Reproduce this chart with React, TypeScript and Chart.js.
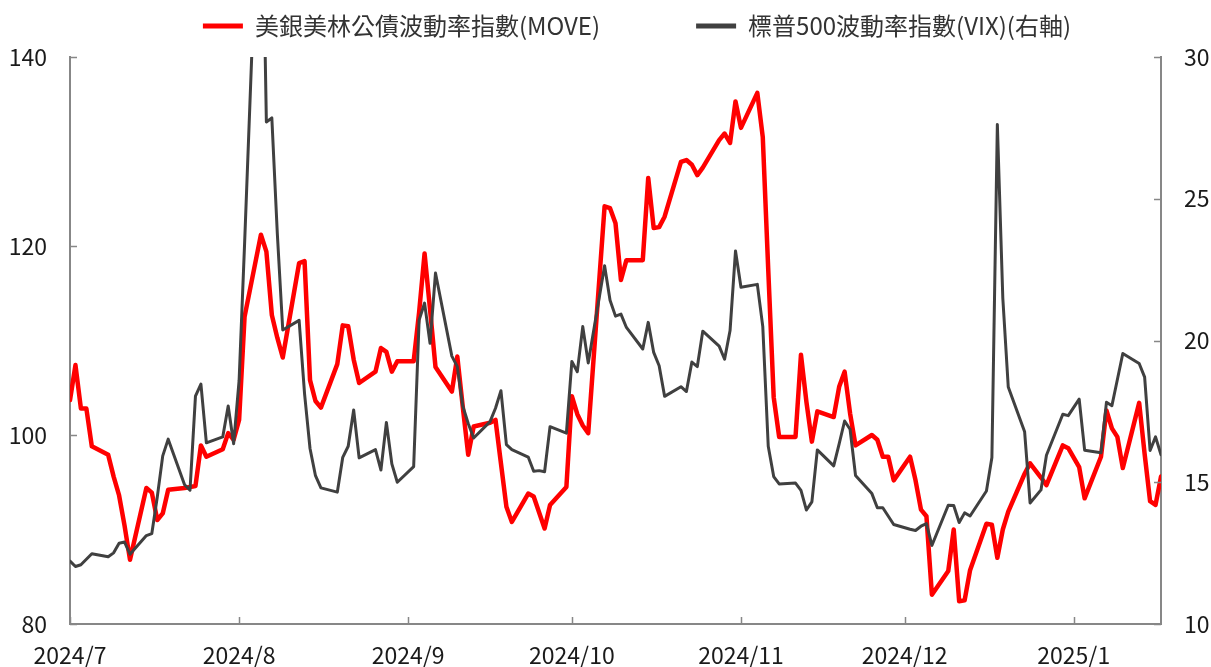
import React, { useEffect, useRef } from 'react';
import { Chart, registerables } from 'chart.js';

Chart.register(...registerables);

// ---------- data ----------
const seriesNames = ['美銀美林公債波動率指數(MOVE)', '標普500波動率指數(VIX)(右軸)'];

const moveDates = [
  '2024-07-01','2024-07-02','2024-07-03','2024-07-04','2024-07-05','2024-07-08','2024-07-09','2024-07-10','2024-07-11','2024-07-12',
  '2024-07-15','2024-07-16','2024-07-17','2024-07-18','2024-07-19','2024-07-22','2024-07-23','2024-07-24','2024-07-25','2024-07-26',
  '2024-07-29','2024-07-30','2024-07-31','2024-08-01','2024-08-02','2024-08-05','2024-08-06','2024-08-07','2024-08-08','2024-08-09',
  '2024-08-12','2024-08-13','2024-08-14','2024-08-15','2024-08-16','2024-08-19','2024-08-20','2024-08-21','2024-08-22','2024-08-23',
  '2024-08-26','2024-08-27','2024-08-28','2024-08-29','2024-08-30','2024-09-02','2024-09-03','2024-09-04','2024-09-05','2024-09-06',
  '2024-09-09','2024-09-10','2024-09-11','2024-09-12','2024-09-13','2024-09-16','2024-09-17','2024-09-18','2024-09-19','2024-09-20',
  '2024-09-23','2024-09-24','2024-09-25','2024-09-26','2024-09-27','2024-09-30','2024-10-01','2024-10-02','2024-10-03','2024-10-04',
  '2024-10-07','2024-10-08','2024-10-09','2024-10-10','2024-10-11','2024-10-14','2024-10-15','2024-10-16','2024-10-17','2024-10-18',
  '2024-10-21','2024-10-22','2024-10-23','2024-10-24','2024-10-25','2024-10-28','2024-10-29','2024-10-30','2024-10-31','2024-11-01',
  '2024-11-04','2024-11-05','2024-11-06','2024-11-07','2024-11-08','2024-11-11','2024-11-12','2024-11-13','2024-11-14','2024-11-15',
  '2024-11-18','2024-11-19','2024-11-20','2024-11-21','2024-11-22','2024-11-25','2024-11-26','2024-11-27','2024-11-28','2024-11-29',
  '2024-12-02','2024-12-03','2024-12-04','2024-12-05','2024-12-06','2024-12-09','2024-12-10','2024-12-11','2024-12-12','2024-12-13',
  '2024-12-16','2024-12-17','2024-12-18','2024-12-19','2024-12-20','2024-12-23','2024-12-24','2024-12-26','2024-12-27','2024-12-30',
  '2024-12-31','2025-01-02','2025-01-03','2025-01-06','2025-01-07','2025-01-08','2025-01-09','2025-01-10','2025-01-13','2025-01-14',
  '2025-01-15','2025-01-16','2025-01-17',
];
const moveValues = [
  103.7, 107.4, 102.8, 102.8, 98.8, 97.9, 95.6, 93.6, 90.4, 86.8,
  94.4, 93.9, 91.0, 91.7, 94.2, 94.4, 94.5, 94.6, 98.9, 97.7,
  98.5, 100.2, 99.5, 101.6, 112.5, 121.2, 119.4, 112.7, 110.3, 108.2,
  118.2, 118.4, 105.8, 103.6, 102.9, 107.5, 111.6, 111.5, 108.0, 105.5,
  106.7, 109.2, 108.8, 106.7, 107.8, 107.8, 113.0, 119.2, 113.3, 107.2,
  104.6, 108.3, 103.0, 97.9, 100.9, 101.3, 101.6, 97.0, 92.4, 90.8,
  93.8, 93.5, 91.8, 90.1, 92.6, 94.5, 104.1, 102.2, 101.0, 100.2,
  124.2, 124.0, 122.4, 116.4, 118.5, 118.5, 127.2, 121.9, 122.0, 123.1,
  128.9, 129.1, 128.6, 127.5, 128.3, 131.2, 131.9, 130.9, 135.3, 132.5,
  136.2, 131.5, 117.5, 104.0, 99.8, 99.8, 108.5, 103.5, 99.3, 102.5,
  101.9, 105.1, 106.7, 102.3, 98.9, 100.0, 99.5, 97.7, 97.7, 95.2,
  97.7, 95.2, 92.1, 91.4, 83.1, 85.6, 90.0, 82.4, 82.5, 85.7,
  90.6, 90.5, 87.0, 90.0, 91.9, 95.9, 97.0, 95.5, 94.7, 98.9,
  98.6, 96.6, 93.3, 97.7, 102.6, 100.7, 99.8, 96.5, 103.4, 98.0,
  93.0, 92.6, 95.6,
];

const vixDates = [
  '2024-07-01','2024-07-02','2024-07-03','2024-07-05','2024-07-08','2024-07-09','2024-07-10','2024-07-11','2024-07-12',
  '2024-07-15','2024-07-16','2024-07-17','2024-07-18','2024-07-19','2024-07-22','2024-07-23','2024-07-24','2024-07-25','2024-07-26',
  '2024-07-29','2024-07-30','2024-07-31','2024-08-01','2024-08-02','2024-08-05','2024-08-06','2024-08-07','2024-08-08','2024-08-09',
  '2024-08-12','2024-08-13','2024-08-14','2024-08-15','2024-08-16','2024-08-19','2024-08-20','2024-08-21','2024-08-22','2024-08-23',
  '2024-08-26','2024-08-27','2024-08-28','2024-08-29','2024-08-30','2024-09-02','2024-09-03','2024-09-04','2024-09-05','2024-09-06',
  '2024-09-09','2024-09-10','2024-09-11','2024-09-12','2024-09-13','2024-09-16','2024-09-17','2024-09-18','2024-09-19','2024-09-20',
  '2024-09-23','2024-09-24','2024-09-25','2024-09-26','2024-09-27','2024-09-30','2024-10-01','2024-10-02','2024-10-03','2024-10-04',
  '2024-10-07','2024-10-08','2024-10-09','2024-10-10','2024-10-11','2024-10-14','2024-10-15','2024-10-16','2024-10-17','2024-10-18',
  '2024-10-21','2024-10-22','2024-10-23','2024-10-24','2024-10-25','2024-10-28','2024-10-29','2024-10-30','2024-10-31','2024-11-01',
  '2024-11-04','2024-11-05','2024-11-06','2024-11-07','2024-11-08','2024-11-11','2024-11-12','2024-11-13','2024-11-14','2024-11-15',
  '2024-11-18','2024-11-19','2024-11-20','2024-11-21','2024-11-22','2024-11-25','2024-11-26','2024-11-27','2024-11-29',
  '2024-12-02','2024-12-03','2024-12-04','2024-12-05','2024-12-06','2024-12-09','2024-12-10','2024-12-11','2024-12-12','2024-12-13',
  '2024-12-16','2024-12-17','2024-12-18','2024-12-19','2024-12-20','2024-12-23','2024-12-24','2024-12-26','2024-12-27','2024-12-30',
  '2024-12-31','2025-01-02','2025-01-03','2025-01-06','2025-01-07','2025-01-08','2025-01-10','2025-01-13','2025-01-14',
  '2025-01-15','2025-01-16','2025-01-17',
];
const vixValues = [
  12.22, 12.03, 12.09, 12.48, 12.37, 12.51, 12.85, 12.89, 12.46,
  13.12, 13.19, 14.48, 15.93, 16.52, 14.91, 14.72, 18.04, 18.46, 16.39,
  16.60, 17.69, 16.36, 18.59, 23.39, 38.57, 27.71, 27.85, 23.79, 20.37,
  20.71, 18.12, 16.19, 15.23, 14.80, 14.65, 15.88, 16.27, 17.55, 15.86,
  16.15, 15.43, 17.11, 15.65, 15.00, 15.55, 20.72, 21.32, 19.90, 22.38,
  19.45, 19.08, 17.69, 17.07, 16.56, 17.14, 17.61, 18.23, 16.33, 16.15,
  15.89, 15.39, 15.41, 15.37, 16.96, 16.73, 19.26, 18.90, 20.49, 19.21,
  22.64, 21.42, 20.86, 20.93, 20.46, 19.70, 20.64, 19.58, 19.11, 18.03,
  18.37, 18.20, 19.24, 19.08, 20.33, 19.80, 19.34, 20.35, 23.16, 21.88,
  21.98, 20.49, 16.27, 15.20, 14.94, 14.97, 14.71, 14.02, 14.31, 16.14,
  15.58, 16.35, 17.16, 16.87, 15.24, 14.60, 14.10, 14.10, 13.51,
  13.34, 13.30, 13.45, 13.54, 12.77, 14.19, 14.18, 13.58, 13.92, 13.81,
  14.69, 15.87, 27.62, 21.5, 18.36, 16.78, 14.27, 14.73, 15.95, 17.40,
  17.35, 17.93, 16.13, 16.04, 17.82, 17.70, 19.54, 19.19, 18.71,
  16.12, 16.60, 15.97,
];

const monthTickDates = ['2024-07-01', '2024-08-01', '2024-09-01', '2024-10-01', '2024-11-01', '2024-12-01', '2025-01-01'];
const monthTickLabels = ['2024/7', '2024/8', '2024/9', '2024/10', '2024/11', '2024/12', '2025/1'];
const xStartDate = '2024-07-01';
const xEndDate = '2025-01-17';

const leftTicks = { min: 80, max: 140, step: 20 };
const rightTicks = { min: 10, max: 30, step: 5 };

// ---------- style ----------
const RED = '#FF0000';
const GREY = '#404040';
const AXIS = '#878787';
const FONT = "'Noto Sans CJK TC', 'Noto Sans', sans-serif";

const toUTC = (s: string) => Date.UTC(+s.slice(0, 4), +s.slice(5, 7) - 1, +s.slice(8, 10));
const dayOf = (s: string) => (toUTC(s) - toUTC(xStartDate)) / 86400000;

const innerTicks = {
  id: 'innerTicks',
  afterDraw(chart: any) {
    const { ctx, chartArea, scales } = chart;
    const len = 7;
    ctx.save();
    ctx.strokeStyle = AXIS;
    ctx.lineWidth = 1.5;
    ctx.beginPath();
    scales.x.ticks.forEach((t: any) => {
      const px = Math.round(scales.x.getPixelForValue(t.value)) + 0.5;
      ctx.moveTo(px, chartArea.bottom);
      ctx.lineTo(px, chartArea.bottom - len);
    });
    scales.y.ticks.forEach((t: any) => {
      const py = Math.round(scales.y.getPixelForValue(t.value)) + 0.5;
      ctx.moveTo(chartArea.left, py);
      ctx.lineTo(chartArea.left + len, py);
    });
    scales.y1.ticks.forEach((t: any) => {
      const py = Math.round(scales.y1.getPixelForValue(t.value)) + 0.5;
      ctx.moveTo(chartArea.right, py);
      ctx.lineTo(chartArea.right - len, py);
    });
    ctx.stroke();
    ctx.restore();
  },
};

export default function App() {
  const ref = useRef<HTMLCanvasElement | null>(null);

  useEffect(() => {
    if (!ref.current) return;
    const tickFont = { family: FONT, size: 23 };
    const chart = new Chart(ref.current, {
      type: 'line',
      data: {
        datasets: [
          {
            label: seriesNames[0],
            data: moveDates.map((d, i) => ({ x: dayOf(d), y: moveValues[i] })),
            borderColor: RED,
            backgroundColor: RED,
            borderWidth: 4.5,
            pointRadius: 0,
            tension: 0,
            borderJoinStyle: 'round',
            borderCapStyle: 'round',
            yAxisID: 'y',
            order: 2,
          },
          {
            label: seriesNames[1],
            data: vixDates.map((d, i) => ({ x: dayOf(d), y: vixValues[i] })),
            borderColor: GREY,
            backgroundColor: GREY,
            borderWidth: 3,
            pointRadius: 0,
            tension: 0,
            borderJoinStyle: 'round',
            borderCapStyle: 'round',
            yAxisID: 'y1',
            order: 1,
          },
        ],
      },
      options: {
        responsive: false,
        animation: false,
        events: [],
        layout: { padding: { top: -82, left: 5, right: -58, bottom: 0 } },
        plugins: {
          legend: {
            display: true,
            position: 'top',
            labels: {
              boxWidth: 40,
              boxHeight: 5,
              padding: 96,
              color: '#333333',
              font: { family: FONT, size: 24 },
              sort: (a: any, b: any) => a.datasetIndex - b.datasetIndex,
              generateLabels: (c: any) =>
                Chart.defaults.plugins.legend.labels.generateLabels(c).map((l: any) => ({ ...l, lineWidth: 0 })),
            },
          },
          title: {
            display: true,
            text: ' ',
            weight: 500,
            font: { size: 1 },
            padding: { top: 0, bottom: 7.8 },
          } as any,
          tooltip: { enabled: false },
        },
        scales: {
          x: {
            type: 'linear',
            min: dayOf(xStartDate),
            max: dayOf(xEndDate),
            afterBuildTicks: (s: any) => {
              s.ticks = monthTickDates.map((d) => ({ value: dayOf(d) }));
            },
            afterFit: (s: any) => {
              s.height = 43;
            },
            grid: { display: false, drawTicks: false },
            border: { display: true, color: AXIS, width: 2 },
            ticks: {
              autoSkip: false,
              maxRotation: 0,
              padding: 17,
              color: '#1a1a1a',
              font: tickFont,
              callback: (_v: any, i: number) => monthTickLabels[i],
            },
          },
          y: {
            position: 'left',
            min: leftTicks.min,
            max: leftTicks.max,
            afterFit: (s: any) => {
              s.width = 65;
            },
            grid: { display: false, drawTicks: false },
            border: { display: true, color: AXIS, width: 2 },
            ticks: { stepSize: leftTicks.step, padding: 23, color: '#1a1a1a', font: tickFont },
          },
          y1: {
            position: 'right',
            min: rightTicks.min,
            max: rightTicks.max,
            afterFit: (s: any) => {
              s.width = 108;
            },
            grid: { display: false, drawTicks: false },
            border: { display: true, color: AXIS, width: 2 },
            ticks: { stepSize: rightTicks.step, padding: 23, color: '#1a1a1a', font: tickFont },
          },
        },
      } as any,
      plugins: [innerTicks],
    });
    return () => chart.destroy();
  }, []);

  return (
    <div style={{ position: 'absolute', left: 0, top: 0, width: 1211, height: 667, background: '#fff' }}>
      <canvas ref={ref} width={1211} height={667} />
    </div>
  );
}
